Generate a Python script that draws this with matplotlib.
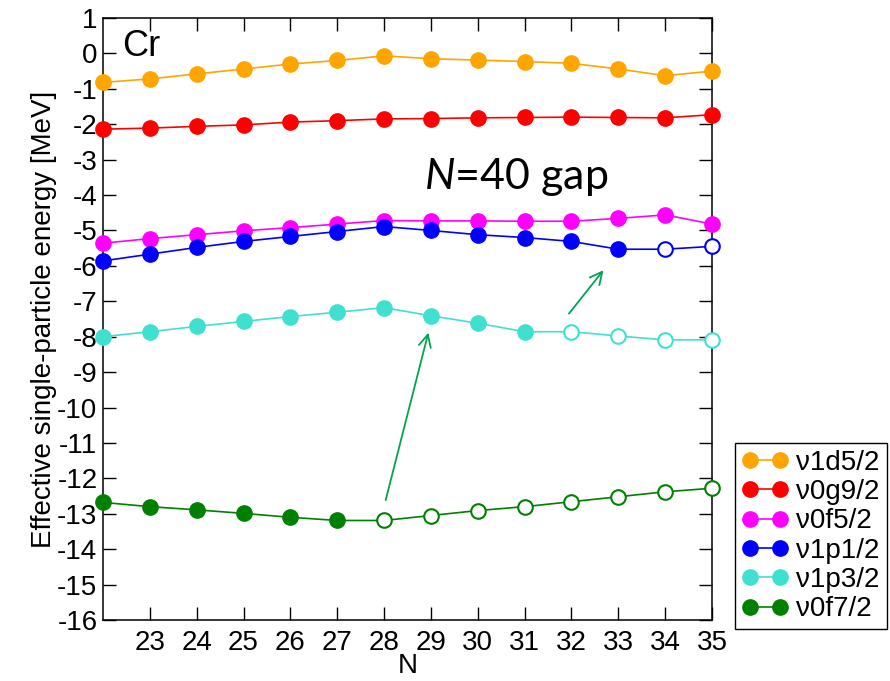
import matplotlib.pyplot as plt
from matplotlib.lines import Line2D

plt.rcParams['font.family'] = ['Liberation Sans', 'DejaVu Sans']
plt.rcParams['axes.unicode_minus'] = False
plt.rcParams['mathtext.fontset'] = 'custom'
plt.rcParams['mathtext.it'] = 'Lato:italic'
plt.rcParams['mathtext.rm'] = 'Lato'

# neutron number
n = [22, 23, 24, 25, 26, 27, 28, 29, 30, 31, 32, 33, 34, 35]

# effective single-particle energies (MeV) for Cr
e_1d52 = [-0.82, -0.72, -0.58, -0.44, -0.30, -0.20, -0.07, -0.15, -0.19, -0.23, -0.28, -0.44, -0.63, -0.50]
e_0g92 = [-2.14, -2.11, -2.06, -2.02, -1.94, -1.90, -1.85, -1.84, -1.82, -1.81, -1.80, -1.81, -1.82, -1.73]
e_0f52 = [-5.36, -5.23, -5.12, -5.01, -4.92, -4.82, -4.72, -4.73, -4.73, -4.74, -4.74, -4.66, -4.56, -4.82]
e_1p12 = [-5.86, -5.67, -5.48, -5.31, -5.17, -5.03, -4.89, -5.00, -5.12, -5.20, -5.31, -5.53, -5.53, -5.45]
e_1p32 = [-8.00, -7.86, -7.71, -7.57, -7.43, -7.31, -7.18, -7.41, -7.62, -7.86, -7.86, -7.98, -8.09, -8.09]
e_0f72 = [-12.68, -12.80, -12.89, -12.99, -13.10, -13.19, -13.19, -13.05, -12.91, -12.80, -12.66, -12.52, -12.38, -12.28]

labels = ['ν1d5/2', 'ν0g9/2', 'ν0f5/2', 'ν1p1/2', 'ν1p3/2', 'ν0f7/2']
colors = ['#FFA500', '#FF0000', '#FF00FF', '#0000FF', '#40E0D0', '#008000']
series = [e_1d52, e_0g92, e_0f52, e_1p12, e_1p32, e_0f72]
# first N at which the orbit is drawn with an open symbol (None = all filled)
open_from = [None, None, None, 34, 32, 28]

fig = plt.figure(figsize=(8.9, 6.81), dpi=100)
ax = fig.add_axes([0.1157, 0.0896, 0.6843, 0.884])

handles = []
for e, c, lab, start in zip(series, colors, labels, open_from):
    ax.plot(n, e, '-', color=c, lw=1.2, zorder=2)
    if start is None:
        start = n[-1] + 1
    nf = [x for x in n if x < start]
    no = [x for x in n if x >= start]
    ax.plot(nf, e[:len(nf)], 'o', color=c, ms=11, mec=c, zorder=3, clip_on=False)
    ax.plot(no, e[len(nf):], 'o', mfc='white', mec=c, mew=1.5, ms=10.5, zorder=3, clip_on=False)
    handles.append(Line2D([], [], color=c, lw=1.2, marker='o', ms=11))

# arrows marking the ordering change
ax.annotate('', xy=(28.96, -7.81), xytext=(28.02, -12.69),
            arrowprops=dict(arrowstyle='->', color='#00A550', lw=1.3, mutation_scale=22))
ax.annotate('', xy=(32.72, -6.06), xytext=(31.91, -7.41),
            arrowprops=dict(arrowstyle='->', color='#00A550', lw=1.3, mutation_scale=22))

ax.text(22.4, 0.2, 'Cr', fontsize=26, va='center')
ax.text(28.85, -3.5, '$N$=40 gap', fontsize=31, va='center', family='Lato')

ax.set_xlim(22, 35)
ax.set_ylim(-16, 1)
ax.set_xticks(n[1:])
ax.set_yticks(range(-16, 2))
ax.tick_params(direction='in', length=9.5, width=1, labelsize=20, top=True, right=True)
ax.tick_params(axis='x', pad=7)
ax.tick_params(axis='y', pad=4)
for s in ax.spines.values():
    s.set_linewidth(1.1)

ax.set_xlabel('N', fontsize=20, labelpad=-2)
ax.set_ylabel('Effective single-particle energy [MeV]', fontsize=20, labelpad=0)

fig.legend(handles, labels, loc='upper left', bbox_to_anchor=(0.826, 0.35),
           fontsize=20, numpoints=2, handlelength=1.65, handletextpad=0.3,
           labelspacing=0.12, borderpad=0.25, borderaxespad=0, fancybox=False,
           edgecolor='black', framealpha=1)

fig.savefig('out.png', dpi=100)
